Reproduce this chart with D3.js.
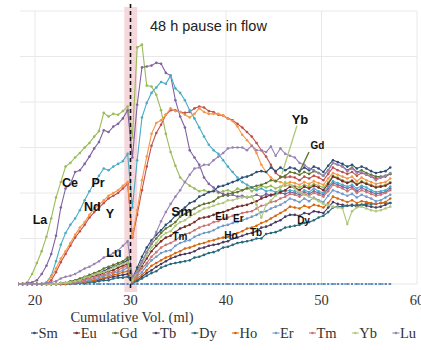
<!DOCTYPE html>
<html lang="en">
<head>
  <meta charset="UTF-8">
  <title>REE elution</title>
</head>
<body>
<style>
  * {
    padding: 0;
    margin: 0;
  }

  body {
    background: #fff;
  }

  #app {
    width: 421px;
    height: 350px;
    overflow: hidden;
  }

  #app svg {
    display: block;
  }
</style>

<div id="app"></div>

<script src="https://cdn.jsdelivr.net/npm/d3@7/dist/d3.min.js"></script>
<script>
  // cumulative volume of every fraction (ml)
  var vol = [18.2, 18.7, 19.2, 19.7, 20.2, 20.7, 21.2, 21.7, 22.2, 22.7, 23.2, 23.7, 24.2, 24.7, 25.2, 25.7,
    26.2, 26.7, 27.2, 27.7, 28.2, 28.7, 29.2, 29.7, 30.2, 30.7, 31.2, 31.7, 32.2, 32.7, 33.2, 33.7, 34.2, 34.7,
    35.2, 35.7, 36.2, 36.7, 37.2, 37.7, 38.2, 38.7, 39.2, 39.7, 40.2, 40.7, 41.2, 41.7, 42.2, 42.7, 43.2, 43.7,
    44.2, 44.7, 45.2, 45.7, 46.2, 46.7, 47.2, 47.7, 48.2, 48.7, 49.2, 49.7, 50.2, 50.7, 51.2, 51.7, 52.2, 52.7,
    53.2, 53.7, 54.2, 54.7, 55.2, 55.7, 56.2, 56.7, 57.2];

  // series values, one per fraction (first 24 before the pause, 55 after it)
  var Sc = [0, 0, 0, 0, 0, 0, 0, 0, 0, 0, 0, 0, 0, 0, 0, 0, 0, 0, 0, 0, 0, 0, 0, 0,
    0, 0, 0, 0, 0, 0, 0, 0, 0, 0, 0, 0, 0, 0, 0, 0, 0, 0, 0, 0, 0, 0, 0, 0, 0, 0, 0, 0, 0, 0, 0,
    0, 0, 0, 0, 0, 0, 0, 0, 0, 0, 0, 0, 0, 0, 0, 0, 0, 0, 0, 0, 0, 0, 0, 0];
  var Y = [0, 0, 0, 0, 0, 0, 0, 4, 13, 24, 33, 42, 51, 58, 65, 73, 79, 84, 89, 94, 97, 100, 105, 110,
    51, 76, 103, 129, 152, 166, 175, 186, 191, 191, 189, 188, 189, 193, 195, 194, 190, 189, 186, 185,
    182, 180, 176, 172, 167, 162, 155, 147, 140, 131, 122, 118, 117, 118, 117, 114, 118, 116, 119, 117,
    114, 121, 128, 125, 123, 121, 123, 119, 122, 120, 118, 116, 117, 118, 121];
  var La = [0, 0, 2, 11, 23, 36, 52, 72, 95, 112, 129, 133, 139, 144, 150, 155, 162, 168, 188, 184, 187, 186, 190, 195,
    161, 260, 263, 218, 217, 208, 191, 165, 145, 130, 117, 112, 108, 105, 102, 103, 101, 103, 100, 102,
    103, 101, 105, 103, 106, 102, 105, 108, 106, 108, 105, 107, 108, 109, 108, 106, 109, 107, 110, 108,
    106, 112, 119, 117, 114, 112, 114, 110, 113, 111, 109, 107, 108, 109, 112];
  var Ce = [0, 0, 1, 2, 4, 11, 20, 33, 53, 84, 105, 110, 123, 125, 132, 140, 149, 156, 169, 167, 173, 176, 182, 191,
    139, 197, 238, 239, 240, 243, 242, 232, 229, 202, 184, 172, 147, 139, 131, 117, 110, 106, 101, 99,
    97, 98, 96, 97, 95, 96, 98, 96, 99, 97, 98, 100, 99, 101, 100, 98, 101, 99, 102, 100,
    98, 105, 111, 109, 107, 105, 107, 102, 106, 103, 101, 99, 100, 101, 105];
  var Pr = [0, 0, 0, 0, 0, 0, 2, 9, 25, 43, 56, 65, 72, 81, 92, 102, 111, 119, 127, 125, 129, 132, 135, 143,
    84, 136, 183, 199, 210, 216, 222, 220, 229, 215, 210, 202, 191, 182, 172, 162, 153, 147, 143, 136,
    129, 123, 117, 112, 109, 106, 103, 105, 102, 103, 101, 103, 102, 103, 102, 100, 103, 101, 105, 102,
    100, 107, 113, 111, 109, 107, 109, 105, 108, 106, 103, 101, 102, 103, 107];
  var Nd = [0, 0, 0, 0, 0, 0, 1, 8, 17, 28, 36, 45, 54, 62, 68, 76, 83, 87, 92, 97, 100, 103, 108, 112,
    52, 81, 114, 140, 165, 177, 180, 186, 193, 190, 189, 186, 183, 187, 193, 189, 187, 187, 187, 185,
    182, 179, 173, 164, 158, 152, 144, 131, 123, 117, 113, 112, 110, 112, 111, 109, 112, 110, 113, 111,
    109, 116, 122, 120, 118, 116, 118, 113, 117, 114, 112, 110, 111, 112, 116];
  var Sm = [0, 0, 0, 0, 0, 0, 0, 0, 0, 0, 1, 2, 3, 4, 7, 8, 10, 12, 14, 17, 19, 21, 23, 26,
    6, 18, 30, 40, 48, 54, 59, 65, 69, 75, 80, 84, 89, 91, 96, 98, 101, 102, 107, 108,
    110, 112, 114, 117, 118, 120, 123, 124, 123, 128, 124, 128, 125, 128, 127, 124, 128, 125, 129, 127,
    123, 130, 136, 134, 132, 129, 131, 127, 129, 127, 124, 122, 123, 124, 128];
  var Eu = [0, 0, 0, 0, 0, 0, 0, 0, 0, 1, 1, 2, 3, 4, 6, 7, 9, 10, 12, 14, 15, 18, 20, 22,
    4, 11, 20, 28, 36, 42, 47, 51, 53, 57, 61, 63, 65, 68, 72, 73, 74, 76, 78, 79,
    81, 83, 85, 86, 87, 89, 91, 94, 96, 98, 99, 101, 103, 107, 106, 103, 107, 105, 108, 106,
    103, 110, 118, 116, 113, 111, 113, 109, 112, 110, 108, 106, 107, 108, 111];
  var Gd = [0, 0, 0, 0, 0, 0, 0, 0, 0, 1, 1, 3, 4, 6, 8, 10, 12, 14, 17, 19, 21, 23, 25, 29,
    6, 15, 25, 35, 44, 50, 56, 61, 64, 68, 74, 77, 80, 83, 86, 88, 89, 91, 95, 97,
    99, 100, 101, 103, 105, 106, 108, 109, 111, 114, 113, 117, 119, 123, 122, 120, 123, 121, 124, 122,
    119, 125, 133, 131, 129, 125, 128, 123, 125, 122, 120, 118, 118, 119, 121];
  var Tb = [0, 0, 0, 0, 0, 0, 0, 0, 0, 0, 0, 1, 1, 2, 2, 3, 3, 4, 6, 7, 8, 9, 10, 11,
    2, 4, 8, 12, 15, 19, 22, 25, 28, 30, 32, 33, 34, 36, 39, 40, 42, 43, 44, 46,
    47, 50, 51, 53, 55, 56, 58, 62, 63, 65, 68, 70, 74, 76, 76, 75, 78, 77, 80, 79,
    78, 84, 90, 88, 87, 86, 87, 85, 87, 86, 85, 84, 85, 87, 89];
  var Dy = [0, 0, 0, 0, 0, 0, 0, 0, 0, 0, 0, 0, 1, 1, 1, 2, 2, 3, 4, 4, 6, 7, 7, 8,
    1, 3, 6, 9, 12, 14, 18, 20, 22, 23, 24, 25, 26, 29, 30, 32, 34, 35, 37, 40,
    41, 43, 45, 46, 47, 48, 50, 50, 55, 56, 57, 59, 62, 63, 64, 65, 67, 68, 70, 73,
    75, 79, 84, 85, 85, 86, 86, 87, 87, 88, 88, 88, 89, 89, 89];
  var Ho = [0, 0, 0, 0, 0, 0, 0, 0, 0, 0, 0, 1, 1, 2, 2, 3, 4, 6, 7, 8, 10, 11, 13, 14,
    2, 6, 10, 15, 20, 23, 26, 29, 31, 34, 36, 39, 40, 42, 44, 45, 47, 48, 50, 51,
    52, 54, 56, 58, 61, 62, 64, 67, 69, 72, 75, 78, 81, 85, 84, 83, 86, 84, 87, 86,
    84, 89, 96, 94, 92, 90, 92, 89, 91, 90, 89, 88, 89, 90, 94];
  var Er = [0, 0, 0, 0, 0, 0, 0, 0, 0, 0, 1, 1, 2, 2, 3, 4, 6, 7, 9, 10, 12, 13, 15, 18,
    3, 8, 13, 20, 26, 30, 34, 36, 37, 42, 45, 47, 48, 52, 54, 56, 57, 59, 62, 64,
    65, 67, 68, 70, 72, 74, 76, 79, 80, 83, 85, 87, 90, 94, 92, 90, 94, 91, 95, 92,
    90, 97, 103, 101, 99, 97, 99, 95, 98, 96, 94, 91, 92, 95, 98];
  var Tm = [0, 0, 0, 0, 0, 0, 0, 0, 0, 0, 1, 1, 2, 3, 4, 6, 7, 9, 10, 12, 13, 15, 18, 20,
    3, 10, 17, 23, 30, 35, 40, 43, 45, 48, 52, 55, 56, 59, 62, 64, 65, 68, 69, 72,
    73, 75, 76, 78, 79, 80, 83, 86, 87, 90, 91, 94, 96, 99, 98, 96, 99, 97, 100, 98,
    96, 102, 109, 107, 105, 102, 105, 100, 103, 101, 99, 97, 98, 100, 103];
  var Yb = [0, 0, 0, 0, 0, 0, 0, 0, 0, 1, 1, 2, 3, 4, 7, 8, 10, 12, 13, 15, 18, 20, 22, 24,
    4, 13, 22, 31, 40, 45, 52, 56, 58, 64, 68, 70, 74, 77, 80, 83, 84, 86, 88, 89,
    92, 92, 94, 95, 96, 96, 87, 73, 87, 92, 97, 106, 112, 109, 105, 101, 98, 96, 94, 91,
    88, 87, 85, 84, 83, 66, 80, 84, 85, 83, 81, 80, 81, 83, 85];
  var Lu = [0, 0, 0, 0, 0, 0, 1, 2, 3, 6, 8, 9, 11, 14, 17, 19, 22, 25, 29, 31, 34, 37, 42, 47,
    8, 13, 24, 35, 45, 57, 69, 79, 88, 96, 103, 112, 120, 127, 128, 131, 131, 136, 140, 144,
    149, 150, 150, 150, 147, 152, 147, 147, 145, 151, 141, 149, 143, 141, 139, 133, 131, 127, 125, 122,
    119, 125, 133, 131, 129, 124, 127, 122, 123, 120, 118, 114, 117, 119, 122];

  var seriesNames = ['Sc', 'Y', 'La', 'Ce', 'Pr', 'Nd', 'Sm', 'Eu', 'Gd', 'Tb', 'Dy', 'Ho', 'Er', 'Tm', 'Yb', 'Lu'];
  var seriesValues = [Sc, Y, La, Ce, Pr, Nd, Sm, Eu, Gd, Tb, Dy, Ho, Er, Tm, Yb, Lu];
  var legendNames = ['Sm', 'Eu', 'Gd', 'Tb', 'Dy', 'Ho', 'Er', 'Tm', 'Yb', 'Lu'];
  var xTicks = [20, 30, 40, 50, 60];
  var yGrid = [0, 50, 100, 150, 200, 250, 300];
  var pauseBand = [29.35, 30.7];
  var pauseAt = 30;

  var colors = {
    Sc: '#4f81bd', Y: '#c0504d', La: '#9bbb59', Ce: '#8064a2', Pr: '#4bacc6', Nd: '#f79646',
    Sm: '#2c4d75', Eu: '#772c2a', Gd: '#5f7530', Tb: '#4d3b62', Dy: '#276a7c', Ho: '#d8660c',
    Er: '#729aca', Tm: '#cd7371', Yb: '#afc97a', Lu: '#9983b5'
  };

  // in-plot element labels (position in ml / value units)
  var labels = [
    {t: 'La', x: 20.52, v: 70, s: 12.5}, {t: 'Ce', x: 23.66, v: 111, s: 12.5},
    {t: 'Pr', x: 26.6, v: 111, s: 12.5}, {t: 'Nd', x: 26.0, v: 85, s: 12.5},
    {t: 'Y', x: 27.85, v: 77, s: 12.5}, {t: 'Lu', x: 28.27, v: 34, s: 12.5},
    {t: 'Sm', x: 35.36, v: 80, s: 13.5}, {t: 'Tm', x: 35.18, v: 52, s: 10},
    {t: 'Eu', x: 39.55, v: 74, s: 10}, {t: 'Er', x: 41.29, v: 72, s: 10},
    {t: 'Ho', x: 40.52, v: 53, s: 10}, {t: 'Tb', x: 43.14, v: 57, s: 10},
    {t: 'Dy', x: 48.12, v: 70, s: 10}, {t: 'Yb', x: 47.75, v: 181, s: 13},
    {t: 'Gd', x: 49.58, v: 152, s: 10}
  ];
  var leaders = [
    {c: '#afc97a', x1: 47.43, v1: 174, x2: 45.86, v2: 121},
    {c: '#5f7530', x1: 48.69, v1: 145, x2: 47.64, v2: 122}
  ];

  seriesValues.forEach(function (s, i) {
    if (s.length !== vol.length) throw new Error(seriesNames[i] + ' has ' + s.length + ' values');
  });

  var svg = d3.select('#app').append('svg').attr('width', 421).attr('height', 350);

  var xs = d3.scaleLinear().domain([20, 60]).range([35, 417]);
  var ys = d3.scaleLinear().domain([0, 300]).range([284, 11]);

  // grid
  svg.append('g').selectAll('line').data(yGrid).join('line')
    .attr('x1', 20).attr('x2', xs(60)).attr('y1', d => ys(d)).attr('y2', d => ys(d))
    .attr('stroke', '#e8e8e8').attr('stroke-width', 1);
  svg.append('g').selectAll('line').data(xTicks).join('line')
    .attr('x1', d => xs(d)).attr('x2', d => xs(d)).attr('y1', ys(300)).attr('y2', ys(0))
    .attr('stroke', '#e8e8e8').attr('stroke-width', 1);

  // pause band
  svg.append('rect')
    .attr('x', xs(pauseBand[0])).attr('width', xs(pauseBand[1]) - xs(pauseBand[0]))
    .attr('y', 7).attr('height', ys(0) + 8 - 7)
    .attr('fill', '#f6d8dc');

  var clip = svg.append('clipPath').attr('id', 'plot');
  clip.append('rect').attr('x', 18).attr('y', 0).attr('width', 403).attr('height', 300);

  var plot = svg.append('g').attr('clip-path', 'url(#plot)');
  var line = d3.line().x(d => xs(d[0])).y(d => ys(d[1]));

  seriesNames.forEach(function (name, i) {
    var pts = vol.map((v, k) => [v, seriesValues[i][k]]);
    var g = plot.append('g');
    g.append('path')
      .attr('d', line(pts)).attr('fill', 'none')
      .attr('stroke', colors[name]).attr('stroke-width', name === 'Sc' ? 1.3 : 1.1)
      .attr('stroke-dasharray', name === 'Sc' ? '2,1.4' : null);
    g.selectAll('circle').data(pts).join('circle')
      .attr('cx', d => xs(d[0])).attr('cy', d => ys(d[1]))
      .attr('r', name === 'Sc' ? 1.1 : 1.3).attr('fill', colors[name]);
  });

  // dashed line at the pause
  svg.append('line')
    .attr('x1', xs(pauseAt)).attr('x2', xs(pauseAt)).attr('y1', 4).attr('y2', ys(0) + 6)
    .attr('stroke', '#111').attr('stroke-width', 1.6).attr('stroke-dasharray', '4,3');

  // annotation
  svg.append('text').attr('x', xs(32.04)).attr('y', ys(278))
    .attr('font-family', 'Liberation Sans, Arial, sans-serif').attr('font-size', 14.5)
    .attr('fill', '#222').text('48 h pause in flow');

  svg.append('g').selectAll('line').data(leaders).join('line')
    .attr('x1', d => xs(d.x1)).attr('y1', d => ys(d.v1)).attr('x2', d => xs(d.x2)).attr('y2', d => ys(d.v2))
    .attr('stroke', d => d.c).attr('stroke-width', 1.4);

  svg.append('g').selectAll('text').data(labels).join('text')
    .attr('x', d => xs(d.x)).attr('y', d => ys(d.v))
    .attr('text-anchor', 'middle').attr('dominant-baseline', 'central')
    .attr('font-family', 'Liberation Sans, Arial, sans-serif').attr('font-weight', 'bold')
    .attr('font-size', d => d.s).attr('fill', '#111').text(d => d.t);

  // x tick labels + title
  svg.append('g').selectAll('text').data(xTicks).join('text')
    .attr('x', d => xs(d)).attr('y', 305).attr('text-anchor', 'middle')
    .attr('font-family', 'Liberation Serif, Times New Roman, serif').attr('font-size', 14.5)
    .attr('fill', '#333').text(d => d);

  svg.append('text').attr('x', 132).attr('y', 322).attr('text-anchor', 'middle')
    .attr('font-family', 'Liberation Serif, Times New Roman, serif').attr('font-size', 14.5)
    .attr('fill', '#333').text('Cumulative Vol. (ml)');

  // legend
  var leg = svg.append('g');
  var items = legendNames.map(function (n) {
    var g = leg.append('g');
    g.append('line').attr('x1', 0).attr('x2', 7).attr('y1', 333).attr('y2', 333)
      .attr('stroke', colors[n]).attr('stroke-width', 1.1);
    g.append('circle').attr('cx', 3.5).attr('cy', 333).attr('r', 1.3).attr('fill', colors[n]);
    var t = g.append('text').attr('x', 7.5).attr('y', 337.5)
      .attr('font-family', 'Liberation Serif, Times New Roman, serif').attr('font-size', 14.5)
      .attr('fill', '#333').text(n);
    return {g: g, w: 7.5 + t.node().getComputedTextLength()};
  });
  var total = d3.sum(items, d => d.w);
  var gap = (416 - 31 - total) / (items.length - 1);
  var pos = 31;
  items.forEach(function (it) {
    it.g.attr('transform', 'translate(' + pos + ',0)');
    pos += it.w + gap;
  });
</script>

</body>
</html>
